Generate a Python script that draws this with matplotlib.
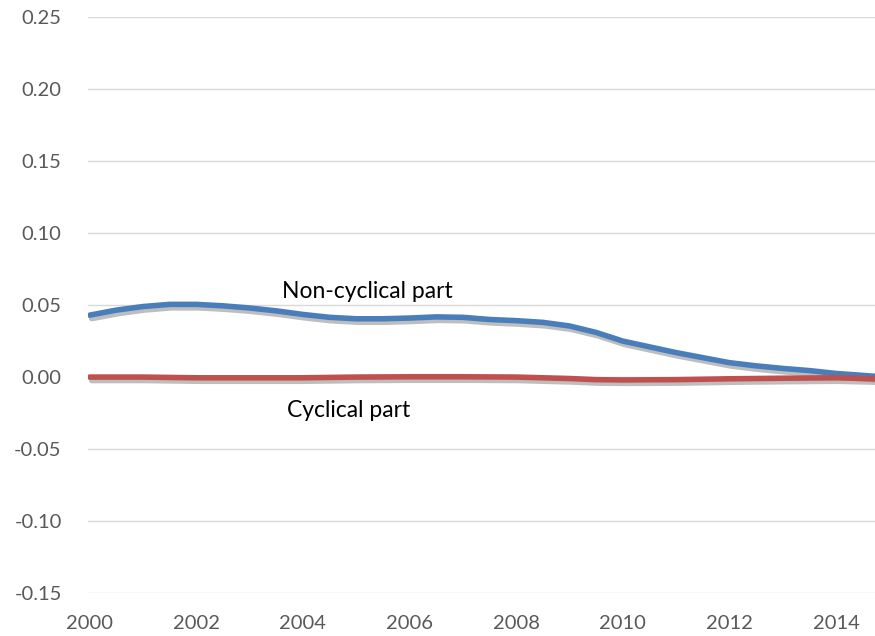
import numpy as np
import matplotlib
matplotlib.use("Agg")
import matplotlib.pyplot as plt
import matplotlib.patheffects as pe

plt.rcParams['font.family'] = ['Lato', 'DejaVu Sans']

# values (year, share)
years_nc = [2000.0, 2000.5, 2001.0, 2001.5, 2002.0, 2002.5, 2003.0, 2003.5, 2004.0, 2004.5,
            2005.0, 2005.5, 2006.0, 2006.5, 2007.0, 2007.5, 2008.0, 2008.5, 2009.0, 2009.5,
            2010.0, 2010.5, 2011.0, 2011.5, 2012.0, 2012.5, 2013.0, 2013.5, 2014.0, 2014.75]
non_cyclical = [0.043, 0.0465, 0.049, 0.0505, 0.0505, 0.0495, 0.048, 0.046, 0.0435, 0.0415,
                0.0405, 0.0405, 0.041, 0.0418, 0.0415, 0.040, 0.0392, 0.038, 0.0355, 0.031,
                0.025, 0.021, 0.017, 0.0135, 0.010, 0.0078, 0.006, 0.0045, 0.0025, 0.0005]

years_c = [2000, 2001, 2002, 2003, 2004, 2005, 2006, 2007, 2008, 2009, 2009.5, 2010,
           2011, 2012, 2013, 2014, 2014.75]
cyclical = [0.0, 0.0, -0.0005, -0.0005, -0.0005, 0.0, 0.0002, 0.0002, 0.0, -0.001, -0.0018,
            -0.002, -0.0018, -0.0012, -0.0008, -0.0005, -0.0012]

yticks = [-0.15, -0.10, -0.05, 0.00, 0.05, 0.10, 0.15, 0.20, 0.25]
xticks = [2000, 2002, 2004, 2006, 2008, 2010, 2012, 2014]

fig = plt.figure(figsize=(8.75, 6.36), dpi=100)
ax = fig.add_axes([0.1006, 0.0676, 0.8994, 0.9054])

shadow = [pe.SimpleLineShadow(offset=(1.5, -2.5), shadow_color='#6f6f6f', alpha=0.45),
          pe.Normal()]
ax.plot(years_nc, non_cyclical, color='#4A7EBB', lw=4.0, solid_capstyle='round',
        path_effects=shadow, zorder=3)
ax.plot(years_c, cyclical, color='#C0504D', lw=4.0, solid_capstyle='round',
        path_effects=shadow, zorder=4)

ax.text(2003.6, 0.0597, 'Non-cyclical part', fontsize=16.5, va='center', ha='left', color='black')
ax.text(2003.7, -0.023, 'Cyclical part', fontsize=16.5, va='center', ha='left', color='black')

ax.set_xlim(2000 - 0.03, 2014.73)
ax.set_ylim(-0.15, 0.25)
ax.set_yticks(yticks)
ax.set_yticklabels([f'{v:.2f}' for v in yticks])
ax.set_xticks(xticks)
ax.set_xticklabels([str(v) for v in xticks])
ax.grid(axis='y', color='#D9D9D9', lw=1)
ax.set_axisbelow(True)
for s in ax.spines.values():
    s.set_visible(False)
ax.tick_params(length=0, labelsize=14.5, colors='#595959')
ax.tick_params(axis='x', pad=16)
ax.tick_params(axis='y', pad=19)

fig.savefig('out.png', dpi=100)
